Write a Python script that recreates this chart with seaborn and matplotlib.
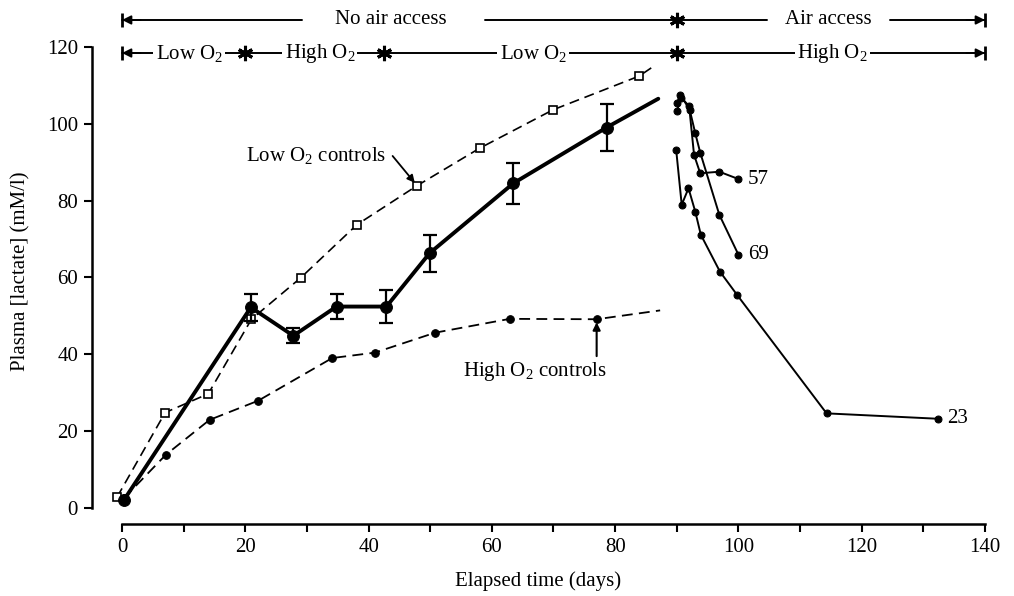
import numpy as np
import pandas as pd
import matplotlib
matplotlib.use("Agg")
import matplotlib.pyplot as plt
import seaborn as sns

# ---------------- data ----------------
# experimental group (mean +/- SE); last entry is the end of the drawn line (no marker)
exp_days = [0.3, 20.9, 27.8, 34.8, 42.9, 49.9, 63.5, 78.6, 87.0]
exp_vals = [2.0, 52.2, 44.8, 52.4, 52.4, 66.3, 84.5, 99.0, 106.5]
exp_err = [0.0, 3.5, 2.0, 3.3, 4.2, 4.8, 5.4, 6.0, 0.0]

# low O2 controls (open squares); last entry = end of dashed line
low_days = [-0.8, 7.0, 14.0, 21.0, 29.0, 38.1, 47.8, 58.0, 69.9, 83.9, 86.2]
low_vals = [2.8, 24.8, 29.7, 49.1, 59.9, 73.7, 83.8, 93.6, 103.6, 112.4, 114.9]

# high O2 controls (filled dots); last entry = end of dashed line
high_days = [0.3, 7.1, 14.2, 22.1, 34.1, 41.0, 50.8, 62.9, 77.0, 87.3]
high_vals = [2.5, 13.8, 22.9, 27.9, 39.0, 40.4, 45.6, 49.2, 49.1, 51.4]

# recovery of individual fish after air access
fish_names = ["57", "69", "23"]
fish57_days = [90.0, 90.7, 92.0, 92.8, 93.8, 96.9, 100.0]
fish57_vals = [103.2, 106.8, 104.6, 91.9, 87.1, 87.5, 85.6]
fish69_days = [90.0, 90.6, 92.1, 93.0, 93.8, 96.9, 100.0]
fish69_vals = [105.3, 107.5, 103.6, 97.5, 92.5, 76.3, 65.9]
fish23_days = [89.9, 90.8, 91.9, 93.0, 93.9, 97.0, 99.8, 114.3, 132.3]
fish23_vals = [93.2, 78.9, 83.2, 77.1, 71.1, 61.5, 55.4, 24.6, 23.2]

# header (treatment periods)
phase_bounds = [0, 20, 42.5, 90, 140]
oxygen_labels = ["Low O$_2$", "High O$_2$", "Low O$_2$", "High O$_2$"]
oxygen_label_days = [10.9, 32.1, 66.7, 115.2]
air_labels = ["No air access", "Air access"]
air_label_days = [43.6, 114.6]
air_gaps = [(29.2, 58.9), (104.6, 124.6)]

x_ticks = [0, 20, 40, 60, 80, 100, 120, 140]
y_ticks = [0, 20, 40, 60, 80, 100, 120]

# ---------------- style ----------------
sns.set_theme(style="ticks")
plt.rcParams["font.family"] = ["Liberation Serif", "DejaVu Serif"]
plt.rcParams["mathtext.fontset"] = "custom"
plt.rcParams["mathtext.rm"] = "Liberation Serif"
plt.rcParams["mathtext.it"] = "Liberation Serif:italic"
plt.rcParams["text.color"] = "black"
plt.rcParams["axes.labelcolor"] = "black"
FS = 15

fig = plt.figure(figsize=(10.14, 5.96), dpi=100)
ax = fig.add_axes([0.0907, 0.1208, 0.8807, 0.8792])
ax.set_facecolor("white")
fig.patch.set_facecolor("white")

dash = (0, (6, 3.5))

# low O2 controls
sns.lineplot(x=low_days, y=low_vals, ax=ax, sort=False, estimator=None,
             color="black", lw=1.2, linestyle=dash, marker="s", markersize=5.5,
             markerfacecolor="white", markeredgecolor="black", markeredgewidth=1.2,
             markevery=list(range(len(low_days) - 1)), zorder=3)
# high O2 controls
sns.lineplot(x=high_days, y=high_vals, ax=ax, sort=False, estimator=None,
             color="black", lw=1.3, linestyle=dash, marker="o", markersize=5.5,
             markerfacecolor="black", markeredgecolor="black",
             markevery=list(range(len(high_days) - 1)), zorder=3)
# experimental group
sns.lineplot(x=exp_days, y=exp_vals, ax=ax, sort=False, estimator=None,
             color="black", lw=2.8, marker="o", markersize=8.5,
             markerfacecolor="black", markeredgecolor="black",
             markevery=list(range(len(exp_days) - 1)), zorder=4)
ax.errorbar(exp_days[1:-1], exp_vals[1:-1], yerr=exp_err[1:-1], fmt="none",
            ecolor="black", elinewidth=1.6, capsize=5, capthick=1.6, zorder=4)

# individual recovery curves
fish_sets = [(fish57_days, fish57_vals), (fish69_days, fish69_vals), (fish23_days, fish23_vals)]
for name, (d, v) in zip(fish_names, fish_sets):
    sns.lineplot(x=d, y=v, ax=ax, sort=False, estimator=None, color="black",
                 lw=1.4, marker="o", markersize=5, markerfacecolor="black",
                 markeredgecolor="black", zorder=3)
    ax.text(d[-1] + 1.5, v[-1], name, fontsize=FS, ha="left", va="center")

# curve labels
ax.text(31.5, 91.6, "Low O$_2$ controls", fontsize=FS, ha="center", va="center")
ax.annotate("", xy=(47.5, 84.6), xytext=(43.9, 91.6),
            arrowprops=dict(arrowstyle="-|>", color="black", lw=1.3, mutation_scale=11,
                            shrinkA=0, shrinkB=0))
ax.text(67.0, 35.6, "High O$_2$ controls", fontsize=FS, ha="center", va="center")
ax.annotate("", xy=(77.0, 48.3), xytext=(77.0, 39.5),
            arrowprops=dict(arrowstyle="-|>", color="black", lw=1.5, mutation_scale=11,
                            shrinkA=0, shrinkB=0))

# ---------------- header ----------------
row1_y, row2_y = 127.0, 118.4

def end_marks(y):
    x0, x1 = phase_bounds[0], phase_bounds[-1]
    ax.plot([x0, x1], [y, y], ls="none", marker="|", ms=10, mew=2, color="black", clip_on=False)
    ax.annotate("", xy=(x0, y), xytext=(x0 + 3, y),
                arrowprops=dict(arrowstyle="-|>", color="black", lw=1.4, mutation_scale=13,
                                shrinkA=0, shrinkB=0), annotation_clip=False)
    ax.annotate("", xy=(x1, y), xytext=(x1 - 3, y),
                arrowprops=dict(arrowstyle="-|>", color="black", lw=1.4, mutation_scale=13,
                                shrinkA=0, shrinkB=0), annotation_clip=False)

# row 1: air access
edges = [phase_bounds[0]]
for g0, g1 in air_gaps:
    edges += [g0, g1]
edges.append(phase_bounds[-1])
for a, b in zip(edges[0::2], edges[1::2]):
    ax.plot([a, b], [row1_y, row1_y], color="black", lw=1.4, clip_on=False)
end_marks(row1_y)
ax.plot([phase_bounds[3]], [row1_y], ls="none", marker=(6, 2, 0), ms=11, mew=2.2,
        color="black", clip_on=False)
for lab, xd in zip(air_labels, air_label_days):
    ax.text(xd, row1_y, lab, fontsize=FS, ha="center", va="center")

# row 2: oxygen level
ax.plot([phase_bounds[0], phase_bounds[-1]], [row2_y, row2_y], color="black", lw=1.4, clip_on=False)
end_marks(row2_y)
ax.plot(phase_bounds[1:-1], [row2_y] * 3, ls="none", marker=(6, 2, 0), ms=11, mew=2.2,
        color="black", clip_on=False)
for lab, xd in zip(oxygen_labels, oxygen_label_days):
    ax.text(xd, row2_y, lab, fontsize=FS, ha="center", va="center",
            bbox=dict(fc="white", ec="none", pad=1.5))

# ---------------- axes ----------------
ax.set_xlim(-4.87, 140.0)
ax.set_ylim(-4.2, 132.2)
ax.set_xticks(x_ticks)
ax.set_yticks(y_ticks)
sns.despine(ax=ax, trim=True)
ax.set_xticks([10, 30, 50, 70, 90, 110, 130], minor=True)
ax.tick_params(axis="both", which="both", direction="out", length=6, width=1.5,
               colors="black", labelsize=FS, pad=4)
for s in ["left", "bottom"]:
    ax.spines[s].set_linewidth(1.8)
    ax.spines[s].set_color("black")
ax.grid(False)
ax.set_xlabel("Elapsed time (days)", fontsize=FS, labelpad=10, color="black")
ax.set_ylabel("Plasma [lactate] (mM/l)", fontsize=FS, color="black")
ax.yaxis.set_label_coords(-0.069, 0.483)

fig.savefig("out.png", dpi=100)
